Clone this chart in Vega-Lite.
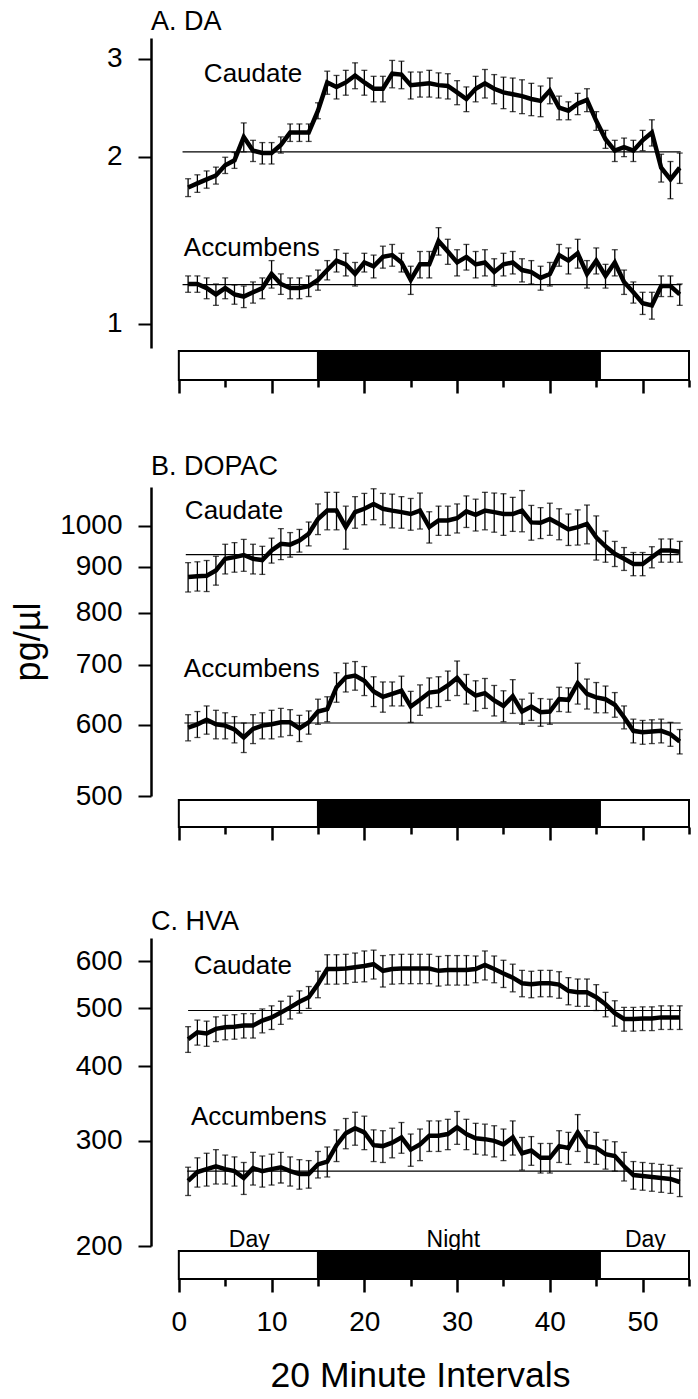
{
  "$schema": "https://vega.github.io/schema/vega-lite/v6.json",
  "padding": {"left": 10, "top": 8, "right": 9, "bottom": 3},
  "background": "white",
  "spacing": 0,
  "bounds": "flush",
  "config": {
    "view": {"stroke": null},
    "font": "Liberation Sans",
    "axis": {"labelFont": "Liberation Sans", "titleFont": "Liberation Sans", "labelColor": "black", "domainColor": "black", "tickColor": "black", "titleColor": "black", "titleFontWeight": "normal", "grid": false},
    "text": {"font": "Liberation Sans", "color": "black"},
    "title": {"font": "Liberation Sans", "fontWeight": "normal", "color": "black"}
  },
  "datasets": {
    "A": [
      {"region":"Caudate","interval":1,"mean":1.76,"sem":0.065},{"region":"Caudate","interval":2,"mean":1.79,"sem":0.065},{"region":"Caudate","interval":3,"mean":1.82,"sem":0.065},{"region":"Caudate","interval":4,"mean":1.85,"sem":0.065},{"region":"Caudate","interval":5,"mean":1.93,"sem":0.065},{"region":"Caudate","interval":6,"mean":1.97,"sem":0.065},{"region":"Caudate","interval":7,"mean":2.17,"sem":0.13},{"region":"Caudate","interval":8,"mean":2.05,"sem":0.09},{"region":"Caudate","interval":9,"mean":2.03,"sem":0.09},{"region":"Caudate","interval":10,"mean":2.03,"sem":0.09},{"region":"Caudate","interval":11,"mean":2.10,"sem":0.07},{"region":"Caudate","interval":12,"mean":2.21,"sem":0.08},{"region":"Caudate","interval":13,"mean":2.21,"sem":0.08},{"region":"Caudate","interval":14,"mean":2.21,"sem":0.08},{"region":"Caudate","interval":15,"mean":2.42,"sem":0.08},{"region":"Caudate","interval":16,"mean":2.72,"sem":0.13},{"region":"Caudate","interval":17,"mean":2.67,"sem":0.13},{"region":"Caudate","interval":18,"mean":2.72,"sem":0.14},{"region":"Caudate","interval":19,"mean":2.80,"sem":0.15},{"region":"Caudate","interval":20,"mean":2.72,"sem":0.14},{"region":"Caudate","interval":21,"mean":2.65,"sem":0.14},{"region":"Caudate","interval":22,"mean":2.65,"sem":0.14},{"region":"Caudate","interval":23,"mean":2.82,"sem":0.16},{"region":"Caudate","interval":24,"mean":2.81,"sem":0.16},{"region":"Caudate","interval":25,"mean":2.69,"sem":0.15},{"region":"Caudate","interval":26,"mean":2.70,"sem":0.14},{"region":"Caudate","interval":27,"mean":2.71,"sem":0.15},{"region":"Caudate","interval":28,"mean":2.69,"sem":0.14},{"region":"Caudate","interval":29,"mean":2.68,"sem":0.14},{"region":"Caudate","interval":30,"mean":2.61,"sem":0.13},{"region":"Caudate","interval":31,"mean":2.54,"sem":0.13},{"region":"Caudate","interval":32,"mean":2.65,"sem":0.14},{"region":"Caudate","interval":33,"mean":2.71,"sem":0.16},{"region":"Caudate","interval":34,"mean":2.65,"sem":0.16},{"region":"Caudate","interval":35,"mean":2.61,"sem":0.17},{"region":"Caudate","interval":36,"mean":2.59,"sem":0.18},{"region":"Caudate","interval":37,"mean":2.57,"sem":0.18},{"region":"Caudate","interval":38,"mean":2.54,"sem":0.17},{"region":"Caudate","interval":39,"mean":2.52,"sem":0.16},{"region":"Caudate","interval":40,"mean":2.63,"sem":0.14},{"region":"Caudate","interval":41,"mean":2.45,"sem":0.12},{"region":"Caudate","interval":42,"mean":2.42,"sem":0.09},{"region":"Caudate","interval":43,"mean":2.49,"sem":0.11},{"region":"Caudate","interval":44,"mean":2.53,"sem":0.12},{"region":"Caudate","interval":45,"mean":2.32,"sem":0.09},{"region":"Caudate","interval":46,"mean":2.15,"sem":0.08},{"region":"Caudate","interval":47,"mean":2.05,"sem":0.09},{"region":"Caudate","interval":48,"mean":2.08,"sem":0.08},{"region":"Caudate","interval":49,"mean":2.05,"sem":0.09},{"region":"Caudate","interval":50,"mean":2.14,"sem":0.09},{"region":"Caudate","interval":51,"mean":2.21,"sem":0.12},{"region":"Caudate","interval":52,"mean":1.91,"sem":0.11},{"region":"Caudate","interval":53,"mean":1.82,"sem":0.14},{"region":"Caudate","interval":54,"mean":1.91,"sem":0.12},
      {"region":"Accumbens","interval":1,"mean":1.18,"sem":0.04},{"region":"Accumbens","interval":2,"mean":1.18,"sem":0.04},{"region":"Accumbens","interval":3,"mean":1.16,"sem":0.05},{"region":"Accumbens","interval":4,"mean":1.13,"sem":0.05},{"region":"Accumbens","interval":5,"mean":1.16,"sem":0.05},{"region":"Accumbens","interval":6,"mean":1.13,"sem":0.045},{"region":"Accumbens","interval":7,"mean":1.12,"sem":0.05},{"region":"Accumbens","interval":8,"mean":1.14,"sem":0.05},{"region":"Accumbens","interval":9,"mean":1.16,"sem":0.05},{"region":"Accumbens","interval":10,"mean":1.23,"sem":0.07},{"region":"Accumbens","interval":11,"mean":1.18,"sem":0.05},{"region":"Accumbens","interval":12,"mean":1.16,"sem":0.05},{"region":"Accumbens","interval":13,"mean":1.16,"sem":0.05},{"region":"Accumbens","interval":14,"mean":1.17,"sem":0.05},{"region":"Accumbens","interval":15,"mean":1.20,"sem":0.05},{"region":"Accumbens","interval":16,"mean":1.25,"sem":0.05},{"region":"Accumbens","interval":17,"mean":1.30,"sem":0.06},{"region":"Accumbens","interval":18,"mean":1.28,"sem":0.06},{"region":"Accumbens","interval":19,"mean":1.23,"sem":0.06},{"region":"Accumbens","interval":20,"mean":1.29,"sem":0.05},{"region":"Accumbens","interval":21,"mean":1.27,"sem":0.06},{"region":"Accumbens","interval":22,"mean":1.32,"sem":0.06},{"region":"Accumbens","interval":23,"mean":1.33,"sem":0.06},{"region":"Accumbens","interval":24,"mean":1.29,"sem":0.05},{"region":"Accumbens","interval":25,"mean":1.20,"sem":0.07},{"region":"Accumbens","interval":26,"mean":1.28,"sem":0.07},{"region":"Accumbens","interval":27,"mean":1.28,"sem":0.07},{"region":"Accumbens","interval":28,"mean":1.41,"sem":0.08},{"region":"Accumbens","interval":29,"mean":1.35,"sem":0.07},{"region":"Accumbens","interval":30,"mean":1.29,"sem":0.07},{"region":"Accumbens","interval":31,"mean":1.32,"sem":0.07},{"region":"Accumbens","interval":32,"mean":1.28,"sem":0.07},{"region":"Accumbens","interval":33,"mean":1.29,"sem":0.07},{"region":"Accumbens","interval":34,"mean":1.24,"sem":0.07},{"region":"Accumbens","interval":35,"mean":1.28,"sem":0.06},{"region":"Accumbens","interval":36,"mean":1.29,"sem":0.06},{"region":"Accumbens","interval":37,"mean":1.25,"sem":0.06},{"region":"Accumbens","interval":38,"mean":1.24,"sem":0.06},{"region":"Accumbens","interval":39,"mean":1.21,"sem":0.06},{"region":"Accumbens","interval":40,"mean":1.23,"sem":0.06},{"region":"Accumbens","interval":41,"mean":1.33,"sem":0.06},{"region":"Accumbens","interval":42,"mean":1.30,"sem":0.07},{"region":"Accumbens","interval":43,"mean":1.34,"sem":0.08},{"region":"Accumbens","interval":44,"mean":1.23,"sem":0.07},{"region":"Accumbens","interval":45,"mean":1.30,"sem":0.07},{"region":"Accumbens","interval":46,"mean":1.22,"sem":0.06},{"region":"Accumbens","interval":47,"mean":1.29,"sem":0.07},{"region":"Accumbens","interval":48,"mean":1.19,"sem":0.06},{"region":"Accumbens","interval":49,"mean":1.14,"sem":0.05},{"region":"Accumbens","interval":50,"mean":1.09,"sem":0.05},{"region":"Accumbens","interval":51,"mean":1.08,"sem":0.06},{"region":"Accumbens","interval":52,"mean":1.17,"sem":0.05},{"region":"Accumbens","interval":53,"mean":1.17,"sem":0.05},{"region":"Accumbens","interval":54,"mean":1.13,"sem":0.05}
    ],
    "B": [
      {"region":"Caudate","interval":1,"mean":877,"sem":33},{"region":"Caudate","interval":2,"mean":879,"sem":33},{"region":"Caudate","interval":3,"mean":880,"sem":35},{"region":"Caudate","interval":4,"mean":892,"sem":33},{"region":"Caudate","interval":5,"mean":919,"sem":35},{"region":"Caudate","interval":6,"mean":923,"sem":35},{"region":"Caudate","interval":7,"mean":928,"sem":38},{"region":"Caudate","interval":8,"mean":919,"sem":35},{"region":"Caudate","interval":9,"mean":916,"sem":33},{"region":"Caudate","interval":10,"mean":939,"sem":30},{"region":"Caudate","interval":11,"mean":955,"sem":38},{"region":"Caudate","interval":12,"mean":953,"sem":30},{"region":"Caudate","interval":13,"mean":963,"sem":28},{"region":"Caudate","interval":14,"mean":980,"sem":30},{"region":"Caudate","interval":15,"mean":1018,"sem":40},{"region":"Caudate","interval":16,"mean":1040,"sem":50},{"region":"Caudate","interval":17,"mean":1040,"sem":50},{"region":"Caudate","interval":18,"mean":997,"sem":55},{"region":"Caudate","interval":19,"mean":1036,"sem":42},{"region":"Caudate","interval":20,"mean":1045,"sem":42},{"region":"Caudate","interval":21,"mean":1058,"sem":42},{"region":"Caudate","interval":22,"mean":1045,"sem":42},{"region":"Caudate","interval":23,"mean":1040,"sem":45},{"region":"Caudate","interval":24,"mean":1036,"sem":42},{"region":"Caudate","interval":25,"mean":1031,"sem":42},{"region":"Caudate","interval":26,"mean":1040,"sem":48},{"region":"Caudate","interval":27,"mean":997,"sem":40},{"region":"Caudate","interval":28,"mean":1014,"sem":38},{"region":"Caudate","interval":29,"mean":1014,"sem":38},{"region":"Caudate","interval":30,"mean":1020,"sem":38},{"region":"Caudate","interval":31,"mean":1038,"sem":42},{"region":"Caudate","interval":32,"mean":1029,"sem":42},{"region":"Caudate","interval":33,"mean":1040,"sem":50},{"region":"Caudate","interval":34,"mean":1036,"sem":52},{"region":"Caudate","interval":35,"mean":1031,"sem":55},{"region":"Caudate","interval":36,"mean":1031,"sem":45},{"region":"Caudate","interval":37,"mean":1040,"sem":55},{"region":"Caudate","interval":38,"mean":1009,"sem":45},{"region":"Caudate","interval":39,"mean":1008,"sem":40},{"region":"Caudate","interval":40,"mean":1018,"sem":42},{"region":"Caudate","interval":41,"mean":1005,"sem":40},{"region":"Caudate","interval":42,"mean":991,"sem":40},{"region":"Caudate","interval":43,"mean":997,"sem":45},{"region":"Caudate","interval":44,"mean":1005,"sem":50},{"region":"Caudate","interval":45,"mean":971,"sem":55},{"region":"Caudate","interval":46,"mean":949,"sem":38},{"region":"Caudate","interval":47,"mean":931,"sem":30},{"region":"Caudate","interval":48,"mean":919,"sem":27},{"region":"Caudate","interval":49,"mean":907,"sem":27},{"region":"Caudate","interval":50,"mean":907,"sem":27},{"region":"Caudate","interval":51,"mean":923,"sem":25},{"region":"Caudate","interval":52,"mean":939,"sem":28},{"region":"Caudate","interval":53,"mean":939,"sem":28},{"region":"Caudate","interval":54,"mean":936,"sem":25},
      {"region":"Accumbens","interval":1,"mean":596,"sem":20},{"region":"Accumbens","interval":2,"mean":601,"sem":20},{"region":"Accumbens","interval":3,"mean":608,"sem":22},{"region":"Accumbens","interval":4,"mean":601,"sem":22},{"region":"Accumbens","interval":5,"mean":599,"sem":20},{"region":"Accumbens","interval":6,"mean":593,"sem":20},{"region":"Accumbens","interval":7,"mean":581,"sem":22},{"region":"Accumbens","interval":8,"mean":594,"sem":22},{"region":"Accumbens","interval":9,"mean":599,"sem":20},{"region":"Accumbens","interval":10,"mean":601,"sem":22},{"region":"Accumbens","interval":11,"mean":604,"sem":22},{"region":"Accumbens","interval":12,"mean":604,"sem":20},{"region":"Accumbens","interval":13,"mean":595,"sem":20},{"region":"Accumbens","interval":14,"mean":604,"sem":18},{"region":"Accumbens","interval":15,"mean":621,"sem":20},{"region":"Accumbens","interval":16,"mean":625,"sem":20},{"region":"Accumbens","interval":17,"mean":661,"sem":25},{"region":"Accumbens","interval":18,"mean":678,"sem":25},{"region":"Accumbens","interval":19,"mean":681,"sem":25},{"region":"Accumbens","interval":20,"mean":672,"sem":25},{"region":"Accumbens","interval":21,"mean":654,"sem":25},{"region":"Accumbens","interval":22,"mean":645,"sem":25},{"region":"Accumbens","interval":23,"mean":650,"sem":20},{"region":"Accumbens","interval":24,"mean":655,"sem":25},{"region":"Accumbens","interval":25,"mean":629,"sem":25},{"region":"Accumbens","interval":26,"mean":640,"sem":25},{"region":"Accumbens","interval":27,"mean":652,"sem":25},{"region":"Accumbens","interval":28,"mean":654,"sem":25},{"region":"Accumbens","interval":29,"mean":664,"sem":25},{"region":"Accumbens","interval":30,"mean":677,"sem":30},{"region":"Accumbens","interval":31,"mean":658,"sem":25},{"region":"Accumbens","interval":32,"mean":647,"sem":25},{"region":"Accumbens","interval":33,"mean":651,"sem":25},{"region":"Accumbens","interval":34,"mean":639,"sem":25},{"region":"Accumbens","interval":35,"mean":630,"sem":25},{"region":"Accumbens","interval":36,"mean":646,"sem":28},{"region":"Accumbens","interval":37,"mean":621,"sem":20},{"region":"Accumbens","interval":38,"mean":629,"sem":22},{"region":"Accumbens","interval":39,"mean":620,"sem":22},{"region":"Accumbens","interval":40,"mean":621,"sem":20},{"region":"Accumbens","interval":41,"mean":641,"sem":20},{"region":"Accumbens","interval":42,"mean":640,"sem":20},{"region":"Accumbens","interval":43,"mean":668,"sem":35},{"region":"Accumbens","interval":44,"mean":650,"sem":25},{"region":"Accumbens","interval":45,"mean":644,"sem":25},{"region":"Accumbens","interval":46,"mean":641,"sem":22},{"region":"Accumbens","interval":47,"mean":632,"sem":20},{"region":"Accumbens","interval":48,"mean":612,"sem":18},{"region":"Accumbens","interval":49,"mean":591,"sem":18},{"region":"Accumbens","interval":50,"mean":589,"sem":18},{"region":"Accumbens","interval":51,"mean":590,"sem":18},{"region":"Accumbens","interval":52,"mean":591,"sem":18},{"region":"Accumbens","interval":53,"mean":586,"sem":18},{"region":"Accumbens","interval":54,"mean":575,"sem":18}
    ],
    "C": [
      {"region":"Caudate","interval":1,"mean":444,"sem":22},{"region":"Caudate","interval":2,"mean":456,"sem":22},{"region":"Caudate","interval":3,"mean":454,"sem":22},{"region":"Caudate","interval":4,"mean":462,"sem":22},{"region":"Caudate","interval":5,"mean":465,"sem":22},{"region":"Caudate","interval":6,"mean":466,"sem":22},{"region":"Caudate","interval":7,"mean":468,"sem":22},{"region":"Caudate","interval":8,"mean":468,"sem":22},{"region":"Caudate","interval":9,"mean":477,"sem":22},{"region":"Caudate","interval":10,"mean":483,"sem":22},{"region":"Caudate","interval":11,"mean":492,"sem":22},{"region":"Caudate","interval":12,"mean":502,"sem":22},{"region":"Caudate","interval":13,"mean":513,"sem":22},{"region":"Caudate","interval":14,"mean":522,"sem":22},{"region":"Caudate","interval":15,"mean":549,"sem":28},{"region":"Caudate","interval":16,"mean":582,"sem":33},{"region":"Caudate","interval":17,"mean":582,"sem":33},{"region":"Caudate","interval":18,"mean":583,"sem":33},{"region":"Caudate","interval":19,"mean":586,"sem":33},{"region":"Caudate","interval":20,"mean":589,"sem":35},{"region":"Caudate","interval":21,"mean":593,"sem":33},{"region":"Caudate","interval":22,"mean":578,"sem":35},{"region":"Caudate","interval":23,"mean":582,"sem":33},{"region":"Caudate","interval":24,"mean":583,"sem":33},{"region":"Caudate","interval":25,"mean":583,"sem":33},{"region":"Caudate","interval":26,"mean":583,"sem":33},{"region":"Caudate","interval":27,"mean":583,"sem":33},{"region":"Caudate","interval":28,"mean":578,"sem":33},{"region":"Caudate","interval":29,"mean":580,"sem":33},{"region":"Caudate","interval":30,"mean":580,"sem":33},{"region":"Caudate","interval":31,"mean":580,"sem":33},{"region":"Caudate","interval":32,"mean":582,"sem":30},{"region":"Caudate","interval":33,"mean":591,"sem":33},{"region":"Caudate","interval":34,"mean":582,"sem":30},{"region":"Caudate","interval":35,"mean":572,"sem":30},{"region":"Caudate","interval":36,"mean":563,"sem":30},{"region":"Caudate","interval":37,"mean":551,"sem":28},{"region":"Caudate","interval":38,"mean":549,"sem":28},{"region":"Caudate","interval":39,"mean":551,"sem":28},{"region":"Caudate","interval":40,"mean":551,"sem":28},{"region":"Caudate","interval":41,"mean":548,"sem":28},{"region":"Caudate","interval":42,"mean":535,"sem":28},{"region":"Caudate","interval":43,"mean":532,"sem":28},{"region":"Caudate","interval":44,"mean":532,"sem":28},{"region":"Caudate","interval":45,"mean":522,"sem":26},{"region":"Caudate","interval":46,"mean":508,"sem":24},{"region":"Caudate","interval":47,"mean":491,"sem":24},{"region":"Caudate","interval":48,"mean":480,"sem":22},{"region":"Caudate","interval":49,"mean":480,"sem":22},{"region":"Caudate","interval":50,"mean":481,"sem":22},{"region":"Caudate","interval":51,"mean":481,"sem":22},{"region":"Caudate","interval":52,"mean":483,"sem":22},{"region":"Caudate","interval":53,"mean":483,"sem":22},{"region":"Caudate","interval":54,"mean":483,"sem":22},
      {"region":"Accumbens","interval":1,"mean":257,"sem":14},{"region":"Accumbens","interval":2,"mean":266,"sem":15},{"region":"Accumbens","interval":3,"mean":269,"sem":17},{"region":"Accumbens","interval":4,"mean":272,"sem":18},{"region":"Accumbens","interval":5,"mean":269,"sem":15},{"region":"Accumbens","interval":6,"mean":267,"sem":15},{"region":"Accumbens","interval":7,"mean":260,"sem":16},{"region":"Accumbens","interval":8,"mean":270,"sem":17},{"region":"Accumbens","interval":9,"mean":267,"sem":16},{"region":"Accumbens","interval":10,"mean":269,"sem":16},{"region":"Accumbens","interval":11,"mean":271,"sem":16},{"region":"Accumbens","interval":12,"mean":267,"sem":15},{"region":"Accumbens","interval":13,"mean":264,"sem":15},{"region":"Accumbens","interval":14,"mean":264,"sem":14},{"region":"Accumbens","interval":15,"mean":274,"sem":14},{"region":"Accumbens","interval":16,"mean":277,"sem":16},{"region":"Accumbens","interval":17,"mean":295,"sem":18},{"region":"Accumbens","interval":18,"mean":309,"sem":18},{"region":"Accumbens","interval":19,"mean":315,"sem":20},{"region":"Accumbens","interval":20,"mean":310,"sem":20},{"region":"Accumbens","interval":21,"mean":295,"sem":18},{"region":"Accumbens","interval":22,"mean":294,"sem":18},{"region":"Accumbens","interval":23,"mean":298,"sem":17},{"region":"Accumbens","interval":24,"mean":304,"sem":18},{"region":"Accumbens","interval":25,"mean":290,"sem":18},{"region":"Accumbens","interval":26,"mean":296,"sem":18},{"region":"Accumbens","interval":27,"mean":306,"sem":18},{"region":"Accumbens","interval":28,"mean":306,"sem":18},{"region":"Accumbens","interval":29,"mean":308,"sem":18},{"region":"Accumbens","interval":30,"mean":316,"sem":20},{"region":"Accumbens","interval":31,"mean":308,"sem":18},{"region":"Accumbens","interval":32,"mean":303,"sem":18},{"region":"Accumbens","interval":33,"mean":302,"sem":18},{"region":"Accumbens","interval":34,"mean":300,"sem":18},{"region":"Accumbens","interval":35,"mean":296,"sem":18},{"region":"Accumbens","interval":36,"mean":304,"sem":20},{"region":"Accumbens","interval":37,"mean":286,"sem":18},{"region":"Accumbens","interval":38,"mean":289,"sem":16},{"region":"Accumbens","interval":39,"mean":281,"sem":16},{"region":"Accumbens","interval":40,"mean":281,"sem":16},{"region":"Accumbens","interval":41,"mean":294,"sem":18},{"region":"Accumbens","interval":42,"mean":292,"sem":18},{"region":"Accumbens","interval":43,"mean":310,"sem":22},{"region":"Accumbens","interval":44,"mean":294,"sem":18},{"region":"Accumbens","interval":45,"mean":292,"sem":18},{"region":"Accumbens","interval":46,"mean":285,"sem":16},{"region":"Accumbens","interval":47,"mean":283,"sem":16},{"region":"Accumbens","interval":48,"mean":272,"sem":15},{"region":"Accumbens","interval":49,"mean":263,"sem":14},{"region":"Accumbens","interval":50,"mean":262,"sem":14},{"region":"Accumbens","interval":51,"mean":261,"sem":14},{"region":"Accumbens","interval":52,"mean":260,"sem":14},{"region":"Accumbens","interval":53,"mean":259,"sem":14},{"region":"Accumbens","interval":54,"mean":256,"sem":14}
    ],
    "refs": [
      {"panel":"A","region":"Caudate","interval":0.4,"interval2":54.1,"mean":2.04},
      {"panel":"A","region":"Accumbens","interval":0.4,"interval2":54.2,"mean":1.177},
      {"panel":"B","region":"Caudate","interval":0.75,"interval2":53.9,"mean":929},
      {"panel":"B","region":"Accumbens","interval":0.6,"interval2":54.1,"mean":603},
      {"panel":"C","region":"Caudate","interval":1.0,"interval2":54.1,"mean":496},
      {"panel":"C","region":"Accumbens","interval":0.9,"interval2":54.1,"mean":267}
    ],
    "labels": [
      {"panel":"A","label":"Caudate","interval":2.7,"mean":2.82},
      {"panel":"A","label":"Accumbens","interval":0.54,"mean":1.368},
      {"panel":"B","label":"Caudate","interval":0.65,"mean":1039},
      {"panel":"B","label":"Accumbens","interval":0.54,"mean":693},
      {"panel":"C","label":"Caudate","interval":1.6,"mean":588},
      {"panel":"C","label":"Accumbens","interval":1.3,"mean":329}
    ],
    "phases": [
      {"label":"Day","interval":7.6,"mean":205},
      {"label":"Night","interval":29.6,"mean":205},
      {"label":"Day","interval":50.3,"mean":205}
    ],
    "daynight": [
      {"phase":"Day","start":0,"end":15},
      {"phase":"Night","start":15,"end":45.4},
      {"phase":"Day","start":45.4,"end":55}
    ],
    "empty": []
  },
  "vconcat": [
    {
      "width": 538, "height": 310,
      "title": {"text": "A. DA", "anchor": "start", "frame": "group", "fontSize": 27, "offset": 2},
      "encoding": {
        "x": {"field": "interval", "type": "quantitative", "scale": {"domain": [-3, 55], "nice": false, "zero": false}, "axis": null},
        "y": {"field": "mean", "type": "quantitative", "scale": {"type": "log", "domain": [0.905, 3.27], "nice": false}, "axis": {"values": [1, 2, 3], "format": "d", "title": null, "tickSize": 13, "tickWidth": 2, "domainWidth": 2.5, "labelFontSize": 28, "labelPadding": 16}}
      },
      "layer": [
        {"data": {"name": "refs"}, "transform": [{"filter": "datum.panel === 'A'"}], "mark": {"type": "rule", "color": "black", "strokeWidth": 1.2}, "encoding": {"x2": {"field": "interval2"}}},
        {"data": {"name": "A"}, "mark": {"type": "errorbar", "ticks": true, "size": 6, "thickness": 1.3, "color": "black"}, "encoding": {"yError": {"field": "sem"}}},
        {"data": {"name": "A"}, "mark": {"type": "line", "color": "black", "strokeWidth": 4.5}, "encoding": {"detail": {"field": "region"}}},
        {"data": {"name": "labels"}, "transform": [{"filter": "datum.panel === 'A'"}], "mark": {"type": "text", "align": "left", "baseline": "middle", "fontSize": 26}, "encoding": {"text": {"field": "label"}}}
      ]
    },
    {"width": 538, "height": 3, "data": {"name": "empty"}, "mark": "point"},
    {
      "width": 538, "height": 29,
      "data": {"name": "daynight"},
      "mark": {"type": "rect", "stroke": "black", "strokeWidth": 2},
      "encoding": {
        "x": {"field": "start", "type": "quantitative", "scale": {"domain": [-3, 55], "nice": false, "zero": false}, "axis": {"values": [0,5,10,15,20,25,30,35,40,45,50,55], "domain": false, "labels": false, "title": null, "tickWidth": 2.5, "tickSize": {"condition": {"test": "datum.value % 10 === 0", "value": 13}, "value": 7}}},
        "x2": {"field": "end"},
        "fill": {"field": "phase", "type": "nominal", "scale": {"domain": ["Day", "Night"], "range": ["white", "black"]}, "legend": null}
      }
    },
    {"width": 538, "height": 107, "data": {"name": "empty"}, "mark": "point"},
    {
      "width": 538, "height": 309,
      "title": {"text": "B. DOPAC", "anchor": "start", "frame": "group", "fontSize": 27, "offset": 6},
      "encoding": {
        "x": {"field": "interval", "type": "quantitative", "scale": {"domain": [-3, 55], "nice": false, "zero": false}, "axis": null},
        "y": {"field": "mean", "type": "quantitative", "scale": {"type": "log", "domain": [500, 1105], "nice": false}, "axis": {"values": [500, 600, 700, 800, 900, 1000], "format": "d", "title": "pg/µl", "titleFontSize": 36, "titlePadding": 12, "tickSize": 13, "tickWidth": 2, "domainWidth": 2.5, "labelFontSize": 28, "labelPadding": 16}}
      },
      "layer": [
        {"data": {"name": "refs"}, "transform": [{"filter": "datum.panel === 'B'"}], "mark": {"type": "rule", "color": "black", "strokeWidth": 1.2}, "encoding": {"x2": {"field": "interval2"}}},
        {"data": {"name": "B"}, "mark": {"type": "errorbar", "ticks": true, "size": 6, "thickness": 1.3, "color": "black"}, "encoding": {"yError": {"field": "sem"}}},
        {"data": {"name": "B"}, "mark": {"type": "line", "color": "black", "strokeWidth": 4.5}, "encoding": {"detail": {"field": "region"}}},
        {"data": {"name": "labels"}, "transform": [{"filter": "datum.panel === 'B'"}], "mark": {"type": "text", "align": "left", "baseline": "middle", "fontSize": 26}, "encoding": {"text": {"field": "label"}}}
      ]
    },
    {"width": 538, "height": 4, "data": {"name": "empty"}, "mark": "point"},
    {
      "width": 538, "height": 27,
      "data": {"name": "daynight"},
      "mark": {"type": "rect", "stroke": "black", "strokeWidth": 2},
      "encoding": {
        "x": {"field": "start", "type": "quantitative", "scale": {"domain": [-3, 55], "nice": false, "zero": false}, "axis": {"values": [0,5,10,15,20,25,30,35,40,45,50,55], "domain": false, "labels": false, "title": null, "tickWidth": 2.5, "tickSize": {"condition": {"test": "datum.value % 10 === 0", "value": 13}, "value": 7}}},
        "x2": {"field": "end"},
        "fill": {"field": "phase", "type": "nominal", "scale": {"domain": ["Day", "Night"], "range": ["white", "black"]}, "legend": null}
      }
    },
    {"width": 538, "height": 111, "data": {"name": "empty"}, "mark": "point"},
    {
      "width": 538, "height": 308,
      "title": {"text": "C. HVA", "anchor": "start", "frame": "group", "fontSize": 27, "offset": 2},
      "encoding": {
        "x": {"field": "interval", "type": "quantitative", "scale": {"domain": [-3, 55], "nice": false, "zero": false}, "axis": null},
        "y": {"field": "mean", "type": "quantitative", "scale": {"type": "log", "domain": [200, 656], "nice": false}, "axis": {"values": [200, 300, 400, 500, 600], "format": "d", "title": null, "tickSize": 13, "tickWidth": 2, "domainWidth": 2.5, "labelFontSize": 28, "labelPadding": 16}}
      },
      "layer": [
        {"data": {"name": "refs"}, "transform": [{"filter": "datum.panel === 'C'"}], "mark": {"type": "rule", "color": "black", "strokeWidth": 1.2}, "encoding": {"x2": {"field": "interval2"}}},
        {"data": {"name": "C"}, "mark": {"type": "errorbar", "ticks": true, "size": 6, "thickness": 1.3, "color": "black"}, "encoding": {"yError": {"field": "sem"}}},
        {"data": {"name": "C"}, "mark": {"type": "line", "color": "black", "strokeWidth": 4.5}, "encoding": {"detail": {"field": "region"}}},
        {"data": {"name": "labels"}, "transform": [{"filter": "datum.panel === 'C'"}], "mark": {"type": "text", "align": "left", "baseline": "middle", "fontSize": 26}, "encoding": {"text": {"field": "label"}}},
        {"data": {"name": "phases"}, "mark": {"type": "text", "align": "center", "baseline": "middle", "fontSize": 23}, "encoding": {"text": {"field": "label"}}}
      ]
    },
    {"width": 538, "height": 5, "data": {"name": "empty"}, "mark": "point"},
    {
      "width": 538, "height": 28,
      "data": {"name": "daynight"},
      "mark": {"type": "rect", "stroke": "black", "strokeWidth": 2},
      "encoding": {
        "x": {"field": "start", "type": "quantitative", "scale": {"domain": [-3, 55], "nice": false, "zero": false}, "axis": {"values": [0,5,10,15,20,25,30,35,40,45,50,55], "domain": false, "labelExpr": "datum.value % 10 === 0 ? datum.label : ''", "labelFontSize": 28, "labelPadding": 16, "title": "20 Minute Intervals", "titleFontSize": 35.5, "titlePadding": 22, "tickWidth": 2.5, "tickSize": {"condition": {"test": "datum.value % 10 === 0", "value": 13}, "value": 7}}},
        "x2": {"field": "end"},
        "fill": {"field": "phase", "type": "nominal", "scale": {"domain": ["Day", "Night"], "range": ["white", "black"]}, "legend": null}
      }
    }
  ]
}
